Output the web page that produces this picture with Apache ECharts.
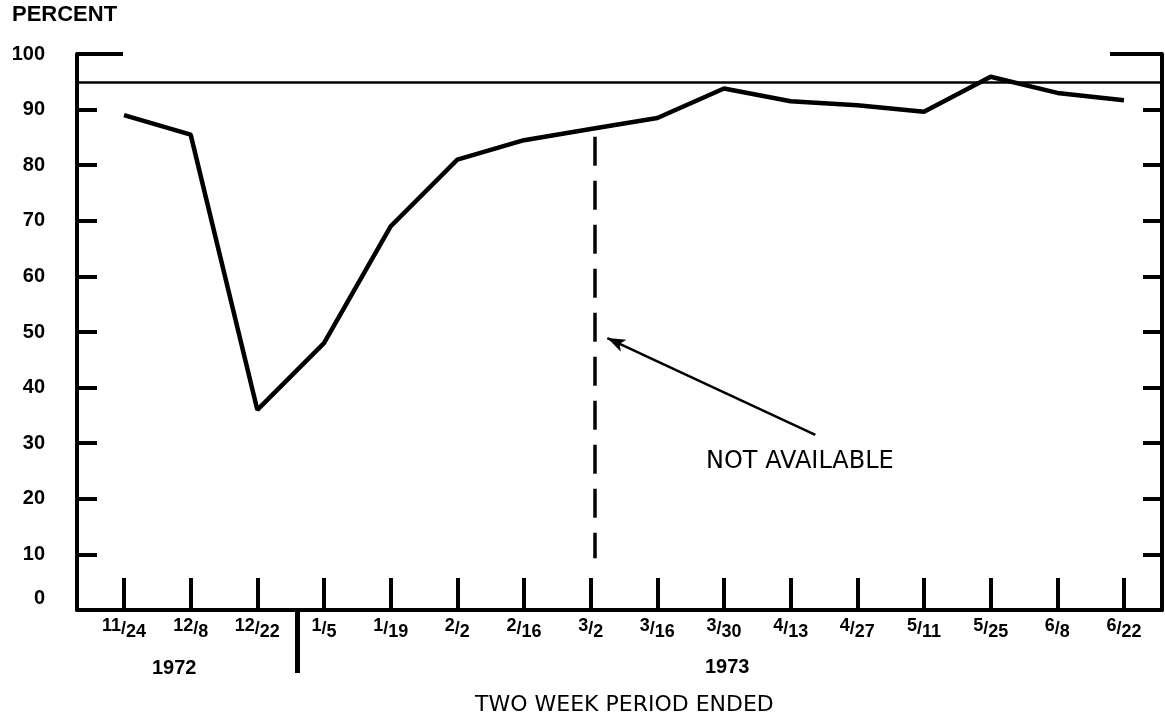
<!DOCTYPE html>
<html>
<head>
<meta charset="utf-8">
<script src="https://cdn.jsdelivr.net/npm/echarts@6/dist/echarts.min.js"></script>
<style>html,body{margin:0;padding:0;background:#fff}#c{width:1165px;height:723px}</style>
</head>
<body>
<div id="c"></div>
<script>
// Data
const numerators = ['11','12','12','1','1','2','2','3','3','3','4','4','5','5','6','6'];
const denominators = ['24','8','22','5','19','2','16','2','16','30','13','27','11','25','8','22'];
const percentValues = [89, 85.5, 36, 48, 69, 81, 84.5, 86.5, 88.5, 93.8, 91.5, 90.8, 89.6, 95.9, 93, 91.7];
const yTickValues = [0, 10, 20, 30, 40, 50, 60, 70, 80, 90, 100];
const innerYTicks = [10, 20, 30, 40, 50, 60, 70, 80, 90];
const referenceLevel = 95;
const notAvailableIndex = 7.06;
const notAvailableRange = [9.3, 85.1];
const yearDividerIndex = 2.6;

const xIdx = numerators.map((_, i) => i);
const lab = 'Liberation Sans';

const chart = echarts.init(document.getElementById('c'), null, {renderer: 'canvas'});
const XMIN = -0.705, XMAX = 15.57;
const blackLine = w => ({color: '#000', width: w, type: 'solid'});

chart.setOption({
  animation: false,
  backgroundColor: '#fff',
  grid: [
    {left: 77, right: 3, top: 54, bottom: 113, containLabel: false},
    {left: 77, right: 3, top: 608, height: 65, containLabel: false}
  ],
  xAxis: [{
    type: 'value', min: XMIN, max: XMAX, gridIndex: 0,
    splitLine: {show: false},
    axisLine: {show: true, onZero: false, lineStyle: {color: '#000', width: 4}},
    axisTick: {show: true, inside: true, length: 32, customValues: xIdx, lineStyle: {color: '#000', width: 4}},
    axisLabel: {
      show: true, customValues: xIdx, margin: 7,
      formatter: v => '{n|' + numerators[v] + '}{s|/}{d|' + denominators[v] + '}',
      rich: {
        n: {fontFamily: lab, fontWeight: 'bold', fontSize: 18, color: '#000', lineHeight: 18, verticalAlign: 'top'},
        s: {fontFamily: lab, fontWeight: 'bold', fontSize: 18, color: '#000', lineHeight: 24, verticalAlign: 'middle'},
        d: {fontFamily: lab, fontWeight: 'bold', fontSize: 18, color: '#000', lineHeight: 18, verticalAlign: 'bottom'}
      }
    }
  }, {
    type: 'value', min: XMIN, max: XMAX, gridIndex: 1, show: false
  }],
  yAxis: [{
    type: 'value', min: 0, max: 100, interval: 10, position: 'left', gridIndex: 0,
    splitLine: {show: false},
    axisLine: {show: true, onZero: false, lineStyle: {color: '#000', width: 4}},
    axisTick: {show: true, inside: true, length: 20, customValues: innerYTicks, lineStyle: {color: '#000', width: 4}},
    axisLabel: {
      show: true, customValues: yTickValues, margin: 32,
      fontFamily: lab, fontWeight: 'bold', fontSize: 20, color: '#000',
      formatter: v => v === 0 ? '{z|0}' : String(v),
      rich: {z: {fontFamily: lab, fontWeight: 'bold', fontSize: 20, color: '#000', padding: [0, 0, 24, 0]}}
    }
  }, {
    type: 'value', min: 0, max: 100, interval: 10, position: 'right', gridIndex: 0,
    splitLine: {show: false},
    axisLine: {show: true, onZero: false, lineStyle: {color: '#000', width: 4}},
    axisTick: {show: true, inside: true, length: 19, customValues: innerYTicks, lineStyle: {color: '#000', width: 4}},
    axisLabel: {show: false}
  }, {
    type: 'value', min: 0, max: 1, gridIndex: 1, show: false
  }],
  graphic: [
    {type: 'text', left: 12, top: 4, style: {text: 'PERCENT', font: 'bold 22px "Liberation Sans"', fill: '#000'}},
    {type: 'text', left: 152, top: 658, style: {text: '1972', font: 'bold 20px "Liberation Sans"', fill: '#000'}},
    {type: 'text', left: 705, top: 657, style: {text: '1973', font: 'bold 20px "Liberation Sans"', fill: '#000'}},
    {type: 'text', left: 475, top: 694, style: {text: 'TWO WEEK PERIOD ENDED', font: '22px "DejaVu Sans"', fill: '#000'}},
    {type: 'text', left: 706, top: 450, style: {text: 'NOT AVAILABLE', font: '24px "DejaVu Sans"', fill: '#000'}}
  ],
  series: [{
    type: 'line',
    xAxisIndex: 0, yAxisIndex: 0,
    data: percentValues.map((v, i) => [i, v]),
    symbol: 'none',
    silent: true,
    lineStyle: {color: '#000', width: 4.5},
    markLine: {
      silent: true, symbol: 'none', label: {show: false},
      data: [
        [{coord: [XMIN, referenceLevel], lineStyle: blackLine(2.5)}, {coord: [XMAX, referenceLevel]}],
        [{coord: [XMIN, 100], lineStyle: blackLine(4)}, {coord: [-0.015, 100]}],
        [{coord: [14.79, 100], lineStyle: blackLine(4)}, {coord: [XMAX, 100]}],
        [{coord: [notAvailableIndex, notAvailableRange[1]], lineStyle: {color: '#000', width: 3.5, type: [29, 15]}}, {coord: [notAvailableIndex, notAvailableRange[0]]}],
        [{coord: [10.37, 31.5], symbol: 'none', lineStyle: blackLine(2.5)}, {coord: [7.25, 48.9], symbol: 'arrow', symbolSize: [10, 18]}]
      ]
    }
  }, {
    type: 'line',
    xAxisIndex: 1, yAxisIndex: 2,
    data: [],
    symbol: 'none',
    silent: true,
    clip: false,
    markLine: {
      silent: true, symbol: 'none', label: {show: false},
      data: [
        [{coord: [yearDividerIndex, 1], lineStyle: {color: '#000', width: 5, type: 'solid', opacity: 1}}, {coord: [yearDividerIndex, 0]}]
      ]
    }
  }]
});
</script>
</body>
</html>
